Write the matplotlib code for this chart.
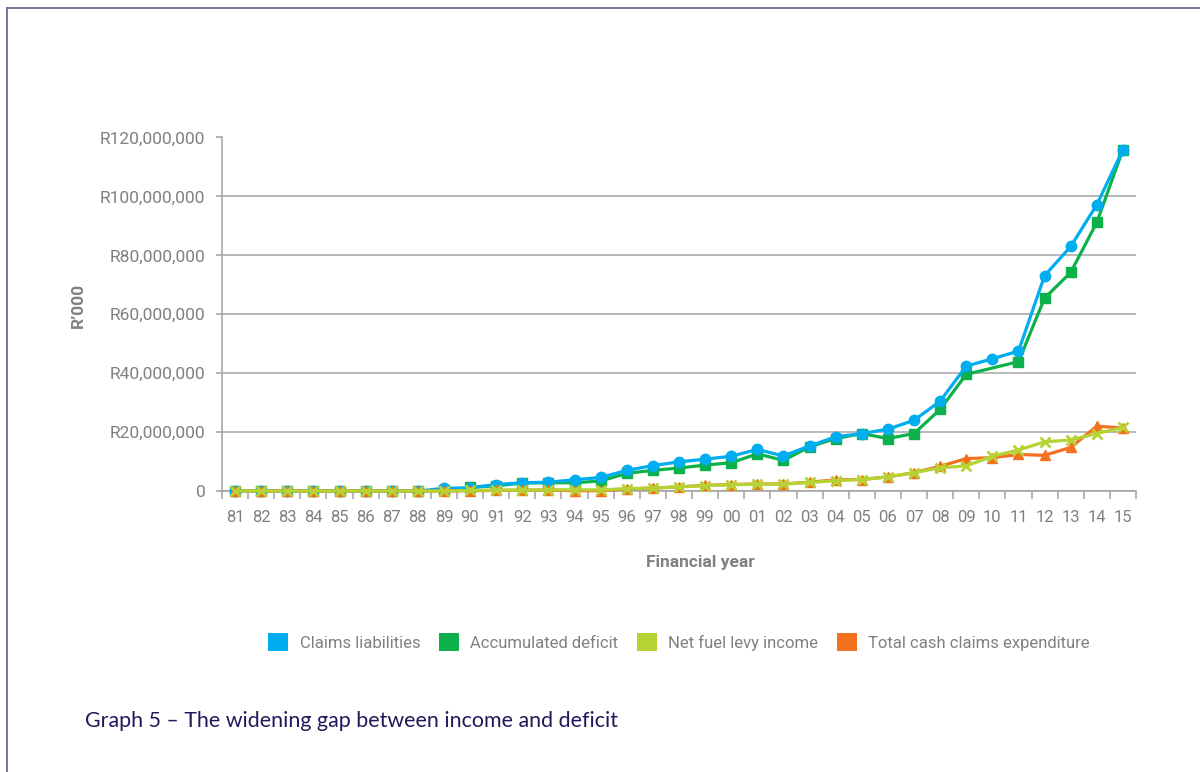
import numpy as np
import matplotlib
matplotlib.use("Agg")
import matplotlib.pyplot as plt
from matplotlib.patches import Patch
from matplotlib.lines import Line2D

# financial years 1981 .. 2015, values in R million (axis is R'000)
years = ["81", "82", "83", "84", "85", "86", "87", "88", "89", "90",
         "91", "92", "93", "94", "95", "96", "97", "98", "99", "00",
         "01", "02", "03", "04", "05", "06", "07", "08", "09", "10",
         "11", "12", "13", "14", "15"]

claims_liabilities = [0, 0, 0, 0, 0, 0, 0, 0, 0.9, 1.1,
                      2.2, 2.8, 3.0, 3.8, 4.6, 7.0, 8.6, 9.9, 10.8, 11.8,
                      14.1, 11.9, 15.3, 18.4, 19.5, 21.0, 24.0, 30.5, 42.4, 44.9,
                      47.5, 73.1, 83.0, 97.2, 115.9]

accumulated_deficit = [0, 0, 0, 0, 0, 0, 0, 0, 0.2, 1.2,
                       1.8, 2.7, 2.8, 2.8, 3.4, 6.0, 7.0, 7.8, 8.8, 9.6,
                       12.6, 10.4, 15.0, 17.8, 19.5, 17.8, 19.5, 27.7, 39.6, np.nan,
                       43.9, 65.5, 74.2, 91.2, 115.9]

net_fuel_levy = [0, 0, 0, 0, 0, 0, 0, 0, 0, 0.2,
                 0.3, 0.3, 0.4, 0.4, 0.4, 0.8, 1.0, 1.4, 1.8, 2.1,
                 2.3, 2.3, 2.9, 3.5, 3.9, 4.8, 6.2, 7.9, 8.5, 11.8,
                 13.9, 16.7, 17.3, 19.5, 21.6]

cash_claims = [0, 0, 0, 0, 0, 0, 0, 0, 0, 0.1,
               0.2, 0.3, 0.3, 0.1, 0.1, 0.7, 1.0, 1.4, 1.9, 2.2,
               2.4, 2.4, 3.0, 3.8, 3.9, 4.8, 6.2, 8.4, 11.0, 11.3,
               12.4, 12.1, 14.8, 22.0, 21.4]

y_ticks = [0, 20e6, 40e6, 60e6, 80e6, 100e6, 120e6]
y_labels = ["0", "R20,000,000", "R40,000,000", "R60,000,000",
            "R80,000,000", "R100,000,000", "R120,000,000"]

c_blue = "#00aeef"
c_green = "#0db14b"
c_lime = "#b6d334"
c_orange = "#f37021"
grey = "#808080"
font = ["Roboto", "DejaVu Sans"]

fig = plt.figure(figsize=(12, 7.72), dpi=100)
ax = fig.add_axes([222 / 1200, 1 - 491 / 772, (1136 - 222) / 1200, (491 - 137.5) / 772])

x = np.arange(len(years))


def series(vals, color, marker, ms, z, mew=1.0):
    v = np.array(vals, dtype=float) * 1e6
    ok = np.isfinite(v)
    ax.plot(x[ok], v[ok], color=color, lw=2.3, marker=marker, ms=ms,
            mew=mew, mec=color, mfc=color, zorder=z, clip_on=False)


series(accumulated_deficit, c_green, "s", 7.5, 3)
series(claims_liabilities, c_blue, "o", 7.5, 4)
series(cash_claims, c_orange, "^", 6.5, 5)
series(net_fuel_levy, c_lime, "x", 6.5, 6, mew=2.0)

ax.set_xlim(-0.5, len(years) - 0.5)
ax.set_ylim(0, 120e6)
ax.set_yticks(y_ticks)
ax.set_yticklabels(y_labels)
ax.set_xticks(x)
ax.set_xticklabels(years)
ax.set_xticks(np.arange(-0.5, len(years)), minor=True)

ax.grid(axis="y", color="#a6a6a6", lw=1.1)
ax.set_axisbelow(True)
for s in ["top", "right"]:
    ax.spines[s].set_visible(False)
for s in ["left", "bottom"]:
    ax.spines[s].set_color("#a0a0a0")
    ax.spines[s].set_linewidth(1.1)

ax.tick_params(axis="y", length=4, width=1.1, color="#a0a0a0", pad=8,
               labelsize=12.5, labelcolor=grey)
ax.tick_params(axis="x", which="major", length=0, pad=14,
               labelsize=12, labelcolor=grey)
ax.tick_params(axis="x", which="minor", length=6, width=1.1, color="#a0a0a0")
for lab in ax.get_xticklabels() + ax.get_yticklabels():
    lab.set_family(font)

fig.text(700 / 1200, 1 - 562 / 772, "Financial year", ha="center", va="center",
         fontsize=12.5, fontweight="bold", color=grey, family=font)
fig.text(78 / 1200, 1 - 305 / 772, "R\u2019000", ha="center", va="center",
         rotation=90, fontsize=12.5, fontweight="bold", color=grey, family=font)

handles = [Patch(facecolor=c_blue, edgecolor="none", label="Claims liabilities"),
           Patch(facecolor=c_green, edgecolor="none", label="Accumulated deficit"),
           Patch(facecolor=c_lime, edgecolor="none", label="Net fuel levy income"),
           Patch(facecolor=c_orange, edgecolor="none", label="Total cash claims expenditure")]
leg = fig.legend(handles=handles, loc="center", bbox_to_anchor=(679 / 1200, 1 - 642 / 772),
                 ncol=4, frameon=False, handlelength=1.2, handleheight=1.35,
                 handletextpad=0.7, columnspacing=1.1,
                 prop={"family": font, "size": 12})
for t in leg.get_texts():
    t.set_color(grey)

fig.text(85 / 1200, 1 - 721 / 772, "Graph 5 \u2013 The widening gap between income and deficit",
         ha="left", va="center", fontsize=15.4, color="#1e1a5a", family=["Lato", "DejaVu Sans"])

# page frame (top and left edges)
frame = "#6e6a93"
fig.add_artist(Line2D([7 / 1200, 1], [1 - 7.5 / 772, 1 - 7.5 / 772], color=frame, lw=1.3))
fig.add_artist(Line2D([7 / 1200, 7 / 1200], [0, 1 - 7.5 / 772], color=frame, lw=1.3))

fig.savefig("out.png", dpi=100)
